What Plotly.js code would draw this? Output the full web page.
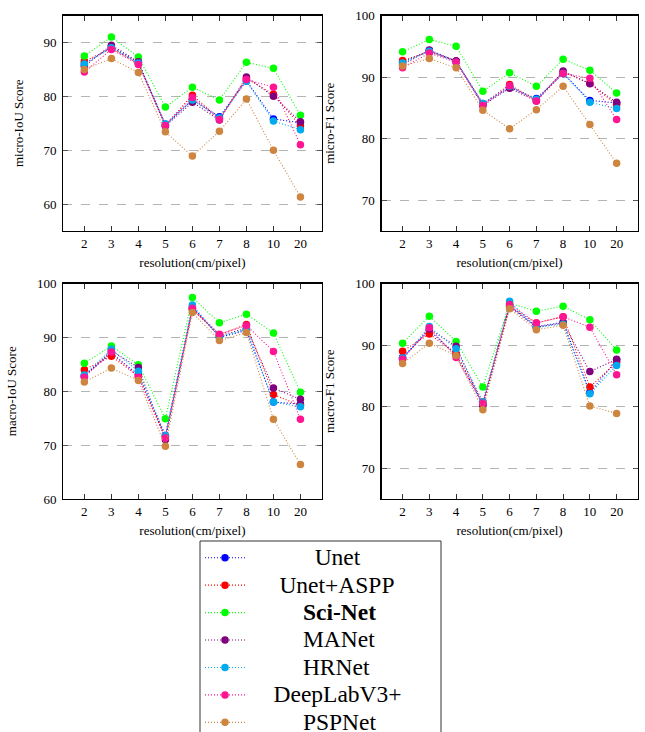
<!DOCTYPE html>
<html>
<head>
<meta charset="utf-8">
<script src="https://cdn.plot.ly/plotly-3.0.1.min.js"></script>
<style>html,body{margin:0;padding:0;background:#fff;}#chart{width:645px;height:732px;}</style>
</head>
<body>
<div id="chart"></div>
<script>
// ---- data ----
const resolution = ['2', '3', '4', '5', '6', '7', '8', '10', '20'];
const models = ['Unet', 'Unet+ASPP', 'Sci-Net', 'MANet', 'HRNet', 'DeepLabV3+', 'PSPNet'];

const microIoU_Unet      = [86.0, 89.2, 86.3, 74.6, 79.4, 76.2, 82.9, 75.8, 75.1];
const microIoU_UnetASPP  = [86.5, 88.9, 86.1, 74.7, 80.2, 75.9, 83.3, 80.4, 74.5];
const microIoU_SciNet    = [87.5, 91.0, 87.3, 78.0, 81.7, 79.3, 86.3, 85.2, 76.5];
const microIoU_MANet     = [85.6, 89.5, 86.4, 74.5, 78.9, 75.6, 83.6, 80.0, 75.3];
const microIoU_HRNet     = [86.0, 89.0, 86.2, 74.9, 79.3, 76.0, 82.8, 75.4, 73.8];
const microIoU_DeepLab   = [84.5, 88.7, 85.9, 74.6, 79.8, 75.7, 83.1, 81.7, 71.0];
const microIoU_PSPNet    = [85.0, 87.0, 84.4, 73.4, 68.9, 73.5, 79.5, 70.0, 61.3];

const microF1_Unet       = [92.4, 94.3, 92.6, 85.7, 88.3, 86.5, 90.6, 86.2, 85.8];
const microF1_UnetASPP   = [92.7, 94.1, 92.6, 85.6, 88.8, 86.2, 90.8, 89.0, 85.5];
const microF1_SciNet     = [94.1, 96.1, 95.0, 87.7, 90.7, 88.5, 92.9, 91.1, 87.4];
const microF1_MANet      = [92.0, 94.4, 92.6, 85.4, 88.2, 86.1, 91.0, 88.9, 85.9];
const microF1_HRNet      = [92.3, 94.2, 92.4, 85.7, 88.5, 86.4, 90.6, 85.9, 84.9];
const microF1_DeepLab    = [91.5, 93.9, 92.4, 85.4, 88.6, 86.1, 90.6, 89.8, 83.1];
const microF1_PSPNet     = [91.8, 93.0, 91.5, 84.6, 81.6, 84.7, 88.5, 82.3, 76.0];

const macroIoU_Unet      = [82.9, 87.0, 83.1, 71.8, 95.7, 90.0, 91.3, 78.0, 77.6];
const macroIoU_UnetASPP  = [84.0, 86.5, 82.8, 71.6, 95.2, 90.5, 92.4, 79.4, 77.3];
const macroIoU_SciNet    = [85.2, 88.4, 84.9, 74.9, 97.4, 92.7, 94.3, 90.8, 79.8];
const macroIoU_MANet     = [82.8, 87.5, 84.4, 71.0, 95.3, 90.3, 91.7, 80.6, 78.5];
const macroIoU_HRNet     = [83.0, 87.8, 83.7, 71.8, 96.0, 90.1, 91.5, 78.0, 77.1];
const macroIoU_DeepLab   = [82.6, 87.3, 82.6, 71.3, 95.4, 90.6, 92.2, 87.4, 74.8];
const macroIoU_PSPNet    = [81.7, 84.3, 82.0, 69.8, 94.6, 89.4, 90.9, 74.8, 66.4];

const macroF1_Unet       = [88.0, 92.4, 88.5, 80.3, 96.4, 93.0, 93.7, 82.3, 87.6];
const macroF1_UnetASPP   = [89.0, 91.8, 88.6, 80.8, 96.2, 93.6, 94.6, 83.2, 87.2];
const macroF1_SciNet     = [90.3, 94.7, 90.6, 83.2, 96.8, 95.5, 96.3, 94.1, 89.2];
const macroF1_MANet      = [87.8, 92.6, 89.8, 80.2, 96.2, 92.9, 93.6, 85.7, 87.7];
const macroF1_HRNet      = [87.9, 93.0, 89.4, 80.8, 97.1, 92.9, 93.4, 82.1, 86.7];
const macroF1_DeepLab    = [87.7, 92.8, 88.0, 80.5, 96.6, 93.6, 94.6, 92.9, 85.2];
const macroF1_PSPNet     = [87.0, 90.3, 88.3, 79.5, 95.9, 92.5, 93.2, 80.1, 78.9];

const yTitles = ['micro-IoU Score', 'micro-F1 Score', 'macro-IoU Score', 'macro-F1 Score'];
const xTitle = 'resolution(cm/pixel)';

// ---- style ----
const colors = ['#0000ff', '#ff0000', '#00ff00', '#800080', '#00aaee', '#ff1493', '#cd853f'];
const legendPad = [11, 5, 9, 9, 9, 4, 9];
const FONT = '"Liberation Serif", "Times New Roman", serif';

const panels = [
  [microIoU_Unet, microIoU_UnetASPP, microIoU_SciNet, microIoU_MANet, microIoU_HRNet, microIoU_DeepLab, microIoU_PSPNet],
  [microF1_Unet, microF1_UnetASPP, microF1_SciNet, microF1_MANet, microF1_HRNet, microF1_DeepLab, microF1_PSPNet],
  [macroIoU_Unet, macroIoU_UnetASPP, macroIoU_SciNet, macroIoU_MANet, macroIoU_HRNet, macroIoU_DeepLab, macroIoU_PSPNet],
  [macroF1_Unet, macroF1_UnetASPP, macroF1_SciNet, macroF1_MANet, macroF1_HRNet, macroF1_DeepLab, macroF1_PSPNet]
];

function legendLabel(i) {
  const pad = '\u00a0'.repeat(legendPad[i]);
  const t = models[i] === 'Sci-Net' ? pad + '<b>' + models[i] + '</b>' : pad + models[i];
  return '<span style="font-size:23.5px">' + t + '</span>';
}

const traces = [];
panels.forEach((series, p) => {
  const ax = p === 0 ? '' : String(p + 1);
  series.forEach((vals, i) => {
    traces.push({
      type: 'scatter', mode: 'lines+markers',
      x: resolution, y: vals,
      xaxis: 'x' + ax, yaxis: 'y' + ax,
      name: legendLabel(i), legendgroup: models[i],
      showlegend: p === 0,
      line: {color: colors[i], width: 1.1, dash: '1px,2px'},
      marker: {color: colors[i], size: 7.5}
    });
  });
});

const xDomL = [63.3 / 645, 321.5 / 645];
const xDomR = [381.7 / 645, 637.5 / 645];
const yDomT = [1 - 231 / 732, 1 - 15.5 / 732];
const yDomB = [1 - 499 / 732, 1 - 283.5 / 732];
const yRanges = [[55, 95], [65, 100], [60, 100], [65, 100]];

function xAxis(dom, anchor) {
  return {
    domain: dom, anchor: anchor, type: 'category',
    range: [-0.78, 8.78], showgrid: false, zeroline: false,
    showline: true, linecolor: '#000', linewidth: 1.3, mirror: 'ticks',
    ticks: 'inside', ticklen: 5, tickcolor: '#333', tickwidth: 1,
    tickfont: {family: FONT, size: 13, color: '#000'},
    title: {text: xTitle, font: {family: FONT, size: 13, color: '#000'}, standoff: 8}
  };
}
function yAxis(dom, anchor, r, t) {
  return {
    domain: dom, anchor: anchor, range: r, tick0: 0, dtick: 10,
    showgrid: true, gridcolor: '#b4b4b4', griddash: 'dash', gridwidth: 1,
    zeroline: false, showline: true, linecolor: '#000', linewidth: 1.3, mirror: 'ticks',
    ticks: 'inside', ticklen: 5, tickcolor: '#555', tickwidth: 1,
    ticklabelstandoff: 3,
    tickfont: {family: FONT, size: 13, color: '#000'},
    title: {text: t, font: {family: FONT, size: 13, color: '#000'}, standoff: 17}
  };
}

const layout = {
  width: 645, height: 732,
  margin: {l: 0, r: 0, t: 0, b: 0, autoexpand: false},
  paper_bgcolor: '#fff', plot_bgcolor: '#fff',
  font: {family: FONT, color: '#000'},
  xaxis: xAxis(xDomL, 'y'), yaxis: yAxis(yDomT, 'x', yRanges[0], yTitles[0]),
  xaxis2: xAxis(xDomR, 'y2'), yaxis2: yAxis(yDomT, 'x2', yRanges[1], yTitles[1]),
  xaxis3: xAxis(xDomL, 'y3'), yaxis3: yAxis(yDomB, 'x3', yRanges[2], yTitles[2]),
  xaxis4: xAxis(xDomR, 'y4'), yaxis4: yAxis(yDomB, 'x4', yRanges[3], yTitles[3]),
  showlegend: true,
  legend: {
    x: 200 / 645, xanchor: 'left', y: 1 - 539 / 732, yanchor: 'top',
    bgcolor: 'rgba(0,0,0,0)', borderwidth: 0,
    font: {family: FONT, size: 18.8, color: '#000'},
    itemwidth: 40, tracegroupgap: 0
  },
  shapes: [{
    type: 'rect', xref: 'paper', yref: 'paper',
    x0: 200 / 645, x1: 441 / 645, y0: -0.05, y1: 1 - 541 / 732,
    line: {color: '#333', width: 1}
  }]
};

Plotly.newPlot('chart', traces, layout, {displayModeBar: false, staticPlot: true});
</script>
</body>
</html>
